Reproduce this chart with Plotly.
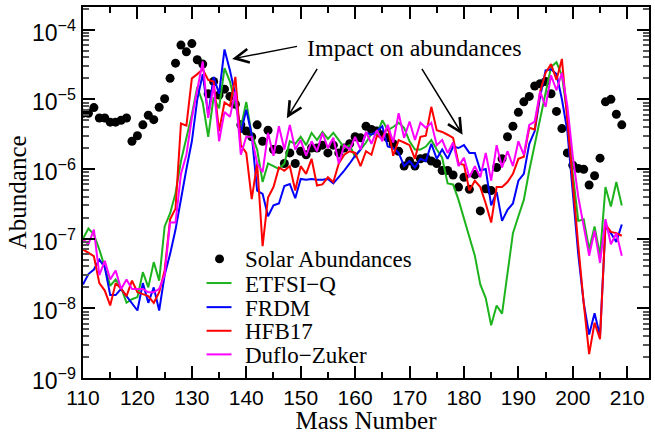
import plotly.graph_objects as go

mass = list(range(110, 210))

solar = [6.3e-6, 6.3e-6, 7.6e-6, 5.4e-6, 5.4e-6, 4.7e-6, 4.7e-6, 5.0e-6, 5.4e-6, 2.5e-6,
         3.0e-6, 4.3e-6, 5.9e-6, 5.1e-6, 7.7e-6, 1.02e-5, 2.0e-5, 3.3e-5, 6.0e-5, 4.8e-5,
         6.3e-5, 3.7e-5, 3.2e-5, 1.2e-5, 1.8e-5, 1.15e-5, 1.4e-5, 1.1e-5, 8.5e-6, 4.3e-6,
         3.5e-6, 2.9e-6, 4.3e-6, 2.5e-6, 3.6e-6, 1.9e-6, 1.9e-6, 1.2e-6, 1.7e-6, 1.2e-6,
         1.8e-6, 1.6e-6, 2.0e-6, 2.0e-6, 2.2e-6, 1.7e-6, 2.2e-6, 1.7e-6, 2.0e-6, 2.3e-6,
         2.9e-6, 2.8e-6, 4.1e-6, 3.7e-6, 3.5e-6, 3.1e-6, 2.8e-6, 2.3e-6, 1.8e-6, 1.1e-6,
         1.3e-6, 1.1e-6, 1.4e-6, 1.45e-6, 1.3e-6, 1.2e-6, 9.5e-7, 9.5e-7, 8.2e-7, 5.5e-7,
         7.6e-7, 5.1e-7, 8.3e-7, 2.5e-7, 5.2e-7, 4.9e-7, 1.05e-6, 1.4e-6, 2.9e-6, 4.1e-6,
         6.5e-6, 9.2e-6, 1.1e-5, 1.55e-5, 1.67e-5, 1.8e-5, 1.2e-5, 6.7e-6, 3.8e-6, 1.7e-6,
         1.13e-6, 1.02e-6, 9.9e-7, 5.9e-7, 8.0e-7, 1.43e-6, 9.2e-6, 1.0e-5, 6.1e-6, 4.3e-6]

etfsi_q = [1.0e-7, 1.4e-7, 1.15e-7, 7e-8, 3.9e-8, 2.1e-8, 2.6e-8, 2.0e-8, 1.2e-8, 1.35e-8,
           1.45e-8, 3.3e-8, 2.0e-8, 4.6e-8, 2.5e-8, 1.5e-7, 2.3e-7, 4.5e-7, 1.3e-6, 2.8e-6,
           6e-6, 1.5e-5, 9e-6, 2.9e-6, 1.07e-5, 7.4e-6, 2.8e-5, 1.8e-5, 8.7e-6, 3.9e-6,
           9.2e-6, 3.1e-6, 1.9e-6, 6.5e-7, 1.2e-6, 1.1e-6, 1.0e-6, 1.2e-6, 2.5e-6, 2.3e-6,
           2.9e-6, 2.2e-6, 3.3e-6, 2.6e-6, 3.4e-6, 2.7e-6, 3.3e-6, 2.6e-6, 2.0e-6, 2.2e-6,
           1.5e-6, 1.9e-6, 2.4e-6, 3.2e-6, 3.1e-6, 5.0e-6, 3.6e-6, 4.0e-6, 4.6e-6, 3.9e-6,
           2.5e-6, 1.9e-6, 1.9e-6, 2.1e-6, 2.6e-6, 1.9e-6, 1.45e-6, 6.2e-7, 6.0e-7, 3.6e-7,
           1.9e-7, 1.0e-7, 5.7e-8, 2.2e-8, 1.4e-8, 5.7e-9, 1.1e-8, 8.4e-9, 3.3e-8, 1.2e-7,
           2.1e-7, 3.6e-7, 9.5e-7, 2.3e-6, 5.3e-6, 1.3e-5, 2.9e-5, 3.4e-5, 2.2e-5, 6e-6,
           8.5e-7, 1.8e-7, 1.9e-7, 7e-8, 1.5e-7, 5.7e-8, 5.5e-7, 2.9e-7, 6.5e-7, 3e-7]

frdm = [2.2e-8, 3.1e-8, 3.6e-8, 5e-8, 3.9e-8, 1.55e-8, 1.55e-8, 1.9e-8, 1.5e-8, 1.2e-8,
        9.3e-9, 2.3e-8, 1.2e-8, 2.0e-8, 9.3e-9, 3e-8, 6e-8, 1.35e-7, 3.8e-7, 1.0e-6,
        2.5e-6, 1.0e-5, 2.3e-5, 6e-6, 2.1e-5, 1.2e-5, 5.2e-5, 2.6e-5, 1.15e-5, 3.3e-6,
        7.1e-6, 3.1e-6, 4.9e-7, 4.4e-7, 2.1e-7, 3.0e-7, 3.2e-7, 5.7e-7, 6.1e-7, 3.8e-7,
        7.2e-7, 7.0e-7, 7.2e-7, 7.0e-7, 7.0e-7, 7.2e-7, 6.2e-7, 7.6e-7, 9.5e-7, 1.2e-6,
        1.55e-6, 1.9e-6, 3.3e-6, 3.1e-6, 3.5e-6, 4.1e-6, 2.1e-6, 2.0e-6, 1.7e-6, 1.1e-6,
        1.3e-6, 1.05e-6, 1.4e-6, 1.3e-6, 2.3e-6, 1.4e-6, 1.9e-6, 1.4e-6, 2.1e-6, 2.0e-6,
        2.2e-6, 1.7e-6, 1.7e-6, 9.5e-7, 1.0e-6, 3e-7, 4.7e-7, 1.8e-7, 2.6e-7, 3.2e-7,
        6.8e-7, 8.5e-7, 2.3e-6, 3.5e-6, 1.1e-5, 2.6e-5, 2.7e-5, 2.3e-5, 1.0e-5, 3.5e-6,
        4e-7, 6e-8, 1.2e-8, 4.2e-9, 8.5e-9, 4e-9, 1.5e-7, 1.2e-7, 9e-8, 1.6e-7]

hfb17 = [7e-8, 6.3e-8, 5.6e-8, 2.3e-8, 1.8e-8, 1.1e-8, 2.3e-8, 1.9e-8, 1.5e-8, 2.5e-8,
         1.7e-8, 1.6e-8, 1.5e-8, 1.2e-8, 1.7e-8, 3.5e-8, 1.9e-7, 2.7e-7, 4.5e-6, 4.2e-6,
         2.0e-5, 2.3e-5, 2.7e-5, 1.9e-5, 1.8e-5, 3.5e-6, 9e-6, 8e-6, 2.1e-5, 2.2e-6,
         1.7e-6, 3.7e-7, 1.2e-6, 7.8e-8, 3.9e-7, 5.5e-7, 1.05e-6, 9.4e-7, 1.1e-6, 4.9e-7,
         1.1e-6, 8.5e-7, 1.4e-6, 5.8e-7, 6.0e-7, 7.6e-7, 6.5e-7, 1.2e-6, 1.6e-6, 1.8e-6,
         1.7e-6, 1.1e-6, 1.8e-6, 1.6e-6, 3.0e-6, 2.8e-6, 4.1e-6, 1.55e-6, 2.6e-6, 2.4e-6,
         2.2e-6, 1.4e-6, 2.9e-6, 3.0e-6, 7.8e-6, 3.6e-6, 3.4e-6, 3.1e-6, 2.8e-6, 1.2e-6,
         1.15e-6, 4.9e-7, 6.8e-7, 5.5e-7, 3.2e-7, 1.7e-7, 5.5e-7, 5.5e-7, 6.5e-7, 8.5e-7,
         1.4e-6, 1.5e-6, 3.9e-6, 3.7e-6, 1.3e-5, 2.4e-5, 3.2e-5, 1.9e-5, 3.8e-5, 5e-6,
         6e-7, 8e-8, 1.2e-8, 2.2e-9, 6.2e-9, 3.6e-9, 1.6e-7, 1.25e-7, 1.2e-7, 1.1e-7]

duflo_zuker = [9.8e-8, 8.3e-8, 1.35e-7, 3e-8, 4.8e-8, 2.6e-8, 3.5e-8, 1.9e-8, 2.6e-8, 1.9e-8,
               1.9e-8, 1.9e-8, 1.7e-8, 1.7e-8, 1.9e-8, 3e-8, 1.7e-7, 1.7e-7, 8.5e-7, 1.6e-6,
               5.4e-6, 1.4e-5, 3.5e-5, 5.4e-6, 1.6e-5, 2.5e-6, 6.6e-6, 5.6e-6, 1.3e-5, 1.6e-6,
               2.9e-6, 2.9e-6, 1.2e-6, 9e-7, 3.3e-6, 1.55e-6, 4.1e-6, 1.9e-6, 4.3e-6, 1.9e-6,
               2.6e-6, 1.55e-6, 2.5e-6, 1.8e-6, 3.3e-6, 2.0e-6, 2.8e-6, 1.2e-6, 2.2e-6, 1.9e-6,
               2.9e-6, 1.9e-6, 3.4e-6, 2.3e-6, 3.6e-6, 2.5e-6, 4.3e-6, 2.4e-6, 6.3e-6, 2.8e-6,
               4.8e-6, 2.6e-6, 4.6e-6, 3.9e-6, 4.6e-6, 2.2e-6, 2.6e-6, 1.7e-6, 2.4e-6, 1.1e-6,
               1.45e-6, 7.6e-7, 1.1e-6, 7.6e-7, 1.7e-6, 6.8e-7, 2.2e-6, 1.05e-6, 1.8e-6, 1.1e-6,
               2.5e-6, 1.6e-6, 4.3e-6, 4.8e-6, 1.3e-5, 7.8e-6, 2.2e-5, 1.35e-5, 2.4e-5, 8e-6,
               1.5e-6, 4e-7, 1.6e-7, 5.7e-8, 1.3e-7, 4.5e-8, 1.9e-7, 8.3e-8, 1.2e-7, 5.7e-8]

x_ticks = [110, 120, 130, 140, 150, 160, 170, 180, 190, 200, 210]
y_exps = [-9, -8, -7, -6, -5, -4]
y_ticktext = ["10<sup>\u2212%d</sup>" % (-e) for e in y_exps]

GREEN = "#1db31d"
BLUE = "#0000ff"
RED = "#ff0000"
MAGENTA = "#ff00ff"
SERIF = "Liberation Serif"
SANS = "Liberation Sans"

series = [("ETFSI\u2212Q", etfsi_q, GREEN), ("FRDM", frdm, BLUE),
          ("HFB17", hfb17, RED), ("Duflo\u2212Zuker", duflo_zuker, MAGENTA)]

fig = go.Figure()
fig.add_trace(go.Scatter(x=mass, y=solar, mode="markers", name="Solar Abundances",
                         marker=dict(color="black", size=9), showlegend=False))
for name, vals, col in series:
    fig.add_trace(go.Scatter(x=mass, y=vals, mode="lines", name=name,
                             line=dict(color=col, width=2), showlegend=False))

minor_y = [k * 10.0 ** e for e in range(-9, -3) for k in range(2, 10)]

fig.update_layout(
    width=655, height=434,
    margin=dict(l=83, r=4, t=7, b=50),
    paper_bgcolor="white", plot_bgcolor="white",
    showlegend=False,
    xaxis=dict(range=[110, 214], tickvals=x_ticks, ticks="inside", ticklen=12,
               tickwidth=2, tickcolor="black", showline=True, linewidth=2,
               linecolor="black", mirror="ticks", showgrid=False, zeroline=False,
               tickfont=dict(family=SANS, size=21, color="black"),
               minor=dict(tickmode="linear", tick0=110, dtick=5, ticks="inside",
                          ticklen=6, tickwidth=2, tickcolor="black"),
               title=dict(text="Mass Number", font=dict(family=SERIF, size=25, color="black"),
                          standoff=3)),
    yaxis=dict(type="log", range=[-9, -3.675], tickvals=[10.0 ** e for e in y_exps],
               showticklabels=False, ticks="inside", ticklen=12, tickwidth=2,
               tickcolor="black", showline=True, linewidth=2, linecolor="black",
               mirror="ticks", showgrid=False, zeroline=False,
               minor=dict(tickmode="array", tickvals=minor_y, ticks="inside",
                          ticklen=6, tickwidth=1.5, tickcolor="#555555")),
)

PW, PH, L, B = 568.0, 377.0, 83.0, 384.0
def px(xp):
    return (xp - L) / PW
def py(yp):
    return (B - yp) / PH

# y tick labels (10^n) placed beside the axis
for e, txt in zip(y_exps, y_ticktext):
    fig.add_annotation(x=px(78), y=e, xref="paper", yref="y", xanchor="right",
                       yanchor="middle", text=txt, showarrow=False, yshift=-1,
                       font=dict(family=SANS, size=23, color="black"))

# y axis title
fig.add_annotation(x=px(17.5), y=py(195.5), xref="paper", yref="paper", text="Abundance",
                   textangle=-90, showarrow=False, xanchor="center", yanchor="middle",
                   font=dict(family=SERIF, size=25, color="black"))

fig.add_annotation(x=171, y=-4.27, xref="x", yref="y", text="Impact on abundances",
                   showarrow=False, font=dict(family=SERIF, size=24, color="black"))
for (hx, hy, tx, ty) in [(137.4, -4.42, 149.6, -4.236),
                         (147.45, -5.27, 153.2, -4.54),
                         (179.75, -5.51, 172.1, -4.54)]:
    fig.add_annotation(x=hx, y=hy, ax=tx, ay=ty, xref="x", yref="y", axref="x", ayref="y",
                       text="", showarrow=True, arrowhead=5, arrowsize=1.8,
                       arrowwidth=1.5, arrowcolor="black")

# legend drawn by hand (paper coordinates), matching the reference's compact layout
legend_rows = [("Solar Abundances", None, 263.0)] + [(n, c, y) for (n, _, c), y in
                                                      zip(series, [287.5, 312.0, 336.0, 360.0])]
for label, col, yrow in legend_rows:
    if col is None:
        fig.add_shape(type="circle", xref="paper", yref="paper",
                      x0=px(215.5), x1=px(224.5), y0=py(267.5), y1=py(258.5),
                      fillcolor="black", line=dict(width=0))
    else:
        fig.add_shape(type="line", xref="paper", yref="paper",
                      x0=px(207), x1=px(232), y0=py(yrow), y1=py(yrow),
                      line=dict(color=col, width=2))
    fig.add_annotation(x=px(244), y=py(yrow + 1), xref="paper", yref="paper",
                       xanchor="left", yanchor="middle", text=label, showarrow=False,
                       font=dict(family=SERIF, size=23, color="black"))

fig.write_html("out.html")
